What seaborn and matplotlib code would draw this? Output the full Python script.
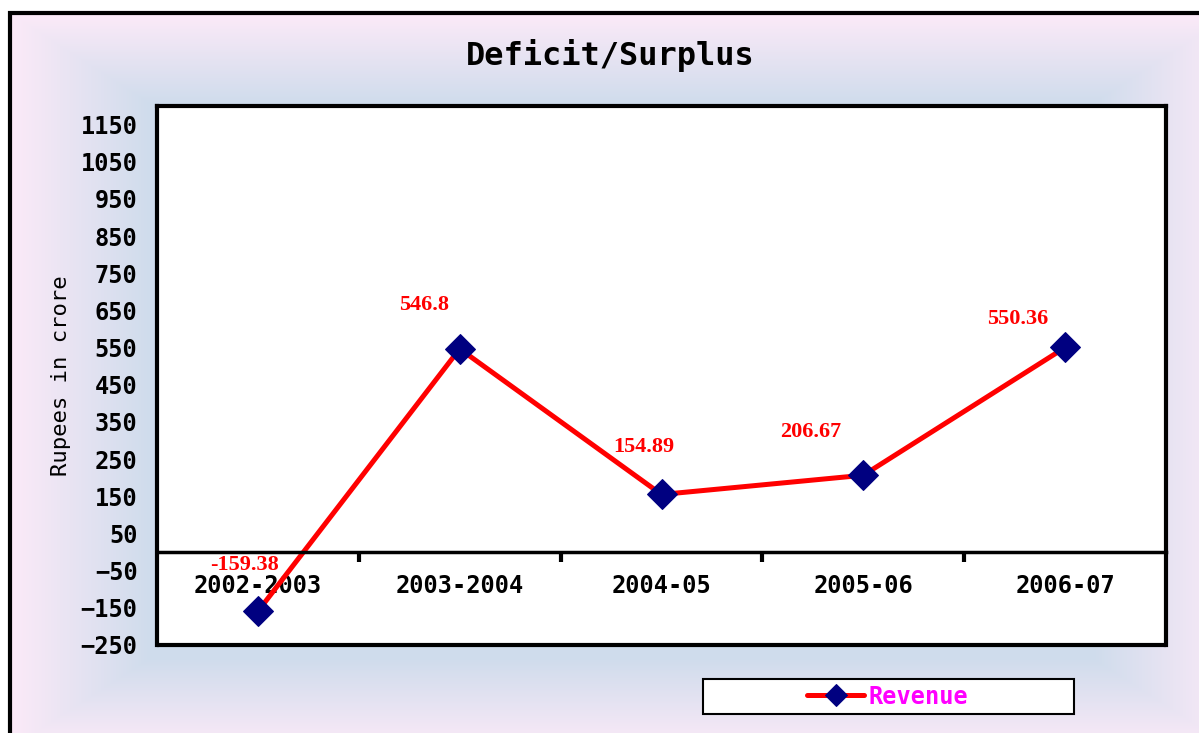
import matplotlib
matplotlib.use('Agg')
import matplotlib.pyplot as plt
import matplotlib.patches as mpatches
from matplotlib.ticker import FixedLocator
import seaborn as sns
import numpy as np

# data
years = ['2002-2003', '2003-2004', '2004-05', '2005-06', '2006-07']
revenue = [-159.38, 546.8, 154.89, 206.67, 550.36]
series_name = 'Revenue'

# label offsets in pixels (dx, dy) relative to each point
label_offsets = [(-13, 46), (-36, 44), (-18, 47), (-53, 43), (-47, 28)]

W, H = 1199, 733
sns.set_theme(style='white')
plt.rcParams['font.family'] = ['DejaVu Sans Mono']
plt.rcParams['font.weight'] = 'bold'
plt.rcParams['xtick.labelsize'] = 17
plt.rcParams['ytick.labelsize'] = 17
for k in ['text.color', 'axes.labelcolor', 'xtick.color', 'ytick.color']:
    plt.rcParams[k] = 'black'

fig = plt.figure(figsize=(W / 100, H / 100), dpi=100)

# chart area background: rectangular gradient, pink at the edges, light blue inside
yy, xx = np.mgrid[0:H, 0:W].astype(float)
fl, ft, fr, fb = 10, 13, 1232, 748
t = np.minimum.reduce([(xx - fl) / 140, (yy - ft) / 90, (fr - xx) / 140, (fb - yy) / 90])
t = np.clip(t, 0, 1)[..., None]
edge = np.array([252, 234, 248]) / 255
center = np.array([207, 220, 236]) / 255
img = edge * (1 - t) + center * t
outside = (xx < fl) | (yy < ft)
img[outside] = 1.0
bg = fig.add_axes([0, 0, 1, 1], zorder=-10)
bg.imshow(img, aspect='auto', extent=(0, 1, 0, 1), interpolation='bilinear')
bg.axis('off')

fig.patches.append(mpatches.Rectangle((fl / W, -0.05), 1.1, 1 - ft / H + 0.05,
                                      transform=fig.transFigure, fill=False,
                                      ec='black', lw=3, zorder=-1))

# plot area
ax = fig.add_axes([157 / W, 1 - 645 / H, (1166 - 157) / W, (645 - 106) / H])
ax.set_facecolor('white')

sns.lineplot(x=years, y=revenue, ax=ax, sort=False, color='red', lw=3.6,
             marker='D', markersize=15, markerfacecolor='#000080',
             markeredgecolor='#000080', label=series_name)

ax.set_xlim(-0.5, len(years) - 0.5)
ax.set_ylim(-250, 1200)
ax.set_yticks(np.arange(-250, 1151, 100))
ax.xaxis.set_minor_locator(FixedLocator(np.arange(0.5, len(years) - 0.5, 1)))

ax.tick_params(axis='y', direction='out', length=6, width=3, pad=8)
ax.tick_params(axis='x', which='major', length=0, pad=16)
ax.tick_params(axis='x', which='minor', direction='out', length=7, width=3, bottom=True)

for s in ['left', 'top', 'right']:
    ax.spines[s].set_linewidth(3)
    ax.spines[s].set_color('black')
ax.spines['bottom'].set_position(('data', 0))
ax.spines['bottom'].set_linewidth(2.5)
ax.spines['bottom'].set_color('black')
ax.plot([0, 1], [0, 0], transform=ax.transAxes, color='black', lw=3, clip_on=False)

ax.set_ylabel('Rupees in crore', family='DejaVu Sans Mono', fontweight='normal', fontsize=16)
ax.yaxis.set_label_coords(-0.085, 0.5)

for x, v, (dx, dy) in zip(years, revenue, label_offsets):
    ax.annotate(str(v), xy=(x, v), xytext=(dx, dy), textcoords='offset pixels',
                ha='center', va='center', color='red', fontsize=16,
                fontweight='bold', family='Liberation Serif')

fig.text(610 / W, 1 - 55 / H, 'Deficit/Surplus', ha='center', va='center',
         family='DejaVu Sans Mono', fontweight='bold', fontsize=23)

# legend box at the bottom
fig.patches.append(mpatches.Rectangle((703 / W, 1 - 714 / H), (1074 - 703) / W, 35 / H,
                                      transform=fig.transFigure, fc='white',
                                      ec='black', lw=1.5, zorder=-1))
leg = ax.legend(loc='center', bbox_to_anchor=(888 / W, 1 - 696.5 / H),
                bbox_transform=fig.transFigure, frameon=False, labelcolor='magenta',
                prop={'family': 'DejaVu Sans Mono', 'weight': 'bold', 'size': 17},
                handlelength=2.4, handletextpad=0.2, borderpad=0)
for h in leg.legend_handles:
    h.set_markersize(11)

fig.savefig('out.png', dpi=100)
